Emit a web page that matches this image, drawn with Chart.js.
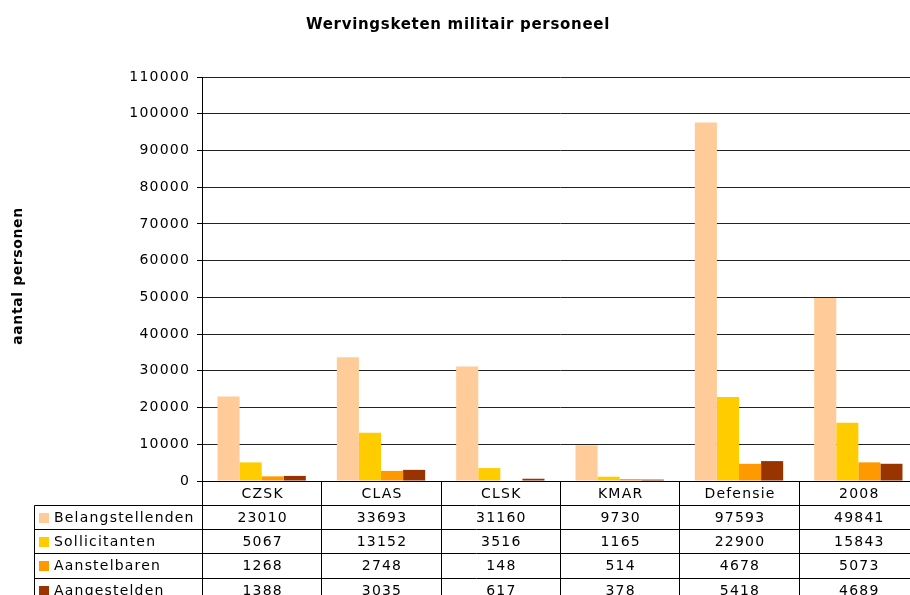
<!DOCTYPE html>
<html>
<head>
<meta charset="utf-8">
<script src="https://cdn.jsdelivr.net/npm/chart.js@4/dist/chart.umd.min.js"></script>
<style>
  html, body { margin: 0; padding: 0; background: #fff; overflow: hidden; }
  #wrap { width: 910px; height: 595px; overflow: hidden; position: relative; }
  canvas { display: block; }
</style>
</head>
<body>
<div id="wrap"><canvas id="c" width="930" height="595"></canvas></div>
<script>
const chartTitle = 'Wervingsketen militair personeel';
const yAxisTitle = 'aantal personen';
const categories = ['CZSK', 'CLAS', 'CLSK', 'KMAR', 'Defensie', '2008'];
const seriesNames = ['Belangstellenden', 'Sollicitanten', 'Aanstelbaren', 'Aangestelden'];
const belangstellenden = [23010, 33693, 31160, 9730, 97593, 49841];
const sollicitanten = [5067, 13152, 3516, 1165, 22900, 15843];
const aanstelbaren = [1268, 2748, 148, 514, 4678, 5073];
const aangestelden = [1388, 3035, 617, 378, 5418, 4689];
const seriesColors = ['#FFCC99', '#FFCC00', '#FF9900', '#993300'];
const yMin = 0, yMax = 110000, yStep = 10000;

const seriesValues = [belangstellenden, sollicitanten, aanstelbaren, aangestelden];
const FONT = "'DejaVu Sans', Verdana, sans-serif";
const SPACING = '1.2px';

const spacingPlugin = {
  id: 'spacing',
  beforeLayout(chart) { chart.ctx.letterSpacing = SPACING; },
  beforeDraw(chart) { chart.ctx.letterSpacing = SPACING; }
};

const tablePlugin = {
  id: 'dataTable',
  afterDraw(chart) {
    const ctx = chart.ctx;
    const x = chart.scales.x;
    const area = chart.chartArea;
    const n = categories.length;
    const catW = (x.getPixelForValue(1) - x.getPixelForValue(0));
    const bounds = [];
    for (let i = 0; i <= n; i++) bounds.push(Math.round(x.getPixelForValue(0) - catW / 2 + i * catW) + 0.5);
    const top = Math.round(area.bottom) + 0.5;
    const headerH = 23.5, rowH = 24.2;
    const tableLeft = 34.5;
    const rowTops = [Math.round(top + headerH) + 0.5];
    for (let r = 1; r <= seriesNames.length; r++) rowTops.push(Math.round(top + headerH + r * rowH) + 0.5);
    const bottom = rowTops[rowTops.length - 1];

    ctx.save();
    ctx.letterSpacing = SPACING;
    ctx.strokeStyle = '#000';
    ctx.lineWidth = 1;
    ctx.beginPath();
    for (let i = 0; i <= n; i++) {
      ctx.moveTo(bounds[i], top);
      ctx.lineTo(bounds[i], bottom);
    }
    ctx.moveTo(tableLeft, rowTops[0]);
    ctx.lineTo(tableLeft, bottom);
    for (let r = 0; r < rowTops.length; r++) {
      ctx.moveTo(tableLeft, rowTops[r]);
      ctx.lineTo(bounds[n], rowTops[r]);
    }
    ctx.stroke();

    ctx.fillStyle = '#000';
    ctx.font = '14px ' + FONT;
    ctx.textBaseline = 'middle';
    ctx.textAlign = 'center';
    for (let i = 0; i < n; i++) {
      const cx = x.getPixelForValue(i) + 1;
      ctx.fillText(categories[i], cx, top + headerH / 2 + 1);
    }
    for (let r = 0; r < seriesNames.length; r++) {
      const cy = rowTops[r] + rowH / 2 + 1;
      ctx.fillStyle = seriesColors[r];
      ctx.fillRect(39, Math.round(cy - 5.5), 10, 10);
      ctx.fillStyle = '#000';
      ctx.textAlign = 'left';
      ctx.fillText(seriesNames[r], 54, cy);
      ctx.textAlign = 'center';
      for (let i = 0; i < n; i++) {
        ctx.fillText(String(seriesValues[r][i]), x.getPixelForValue(i) + 1, cy);
      }
    }

    // title
    ctx.letterSpacing = '0.7px';
    ctx.font = 'bold 15px ' + FONT;
    ctx.textAlign = 'center';
    ctx.fillText(chartTitle, 458, 25);
    // y axis title
    ctx.letterSpacing = '0.6px';
    ctx.font = 'bold 14px ' + FONT;
    ctx.translate(18, 276);
    ctx.rotate(-Math.PI / 2);
    ctx.fillText(yAxisTitle, 0, 0);
    ctx.restore();
  }
};

new Chart(document.getElementById('c'), {
  type: 'bar',
  data: {
    labels: categories,
    datasets: seriesNames.map((name, i) => ({
      label: name,
      data: seriesValues[i],
      backgroundColor: seriesColors[i],
      borderWidth: 0,
      barPercentage: 1.0,
      categoryPercentage: 0.74
    }))
  },
  options: {
    responsive: false,
    animation: false,
    devicePixelRatio: 1,
    layout: { padding: { top: 77, right: 12, left: 0, bottom: 0 } },
    plugins: {
      legend: { display: false },
      title: { display: false },
      tooltip: { enabled: false }
    },
    scales: {
      x: {
        type: 'category',
        grid: { display: false, drawTicks: false },
        border: { display: true, color: '#000', width: 1 },
        ticks: { display: false },
        afterFit(scale) { scale.height = 114; }
      },
      y: {
        min: yMin,
        max: yMax,
        ticks: {
          stepSize: yStep,
          color: '#000',
          padding: 7,
          font: { family: FONT, size: 14 },
          callback: v => String(v)
        },
        grid: { color: '#222', lineWidth: 1, tickLength: 5, drawTicks: true, tickColor: '#000' },
        border: { display: true, color: '#000', width: 1 },
        afterFit(scale) { scale.width = 202; }
      }
    }
  },
  plugins: [spacingPlugin, tablePlugin]
});
</script>
</body>
</html>
